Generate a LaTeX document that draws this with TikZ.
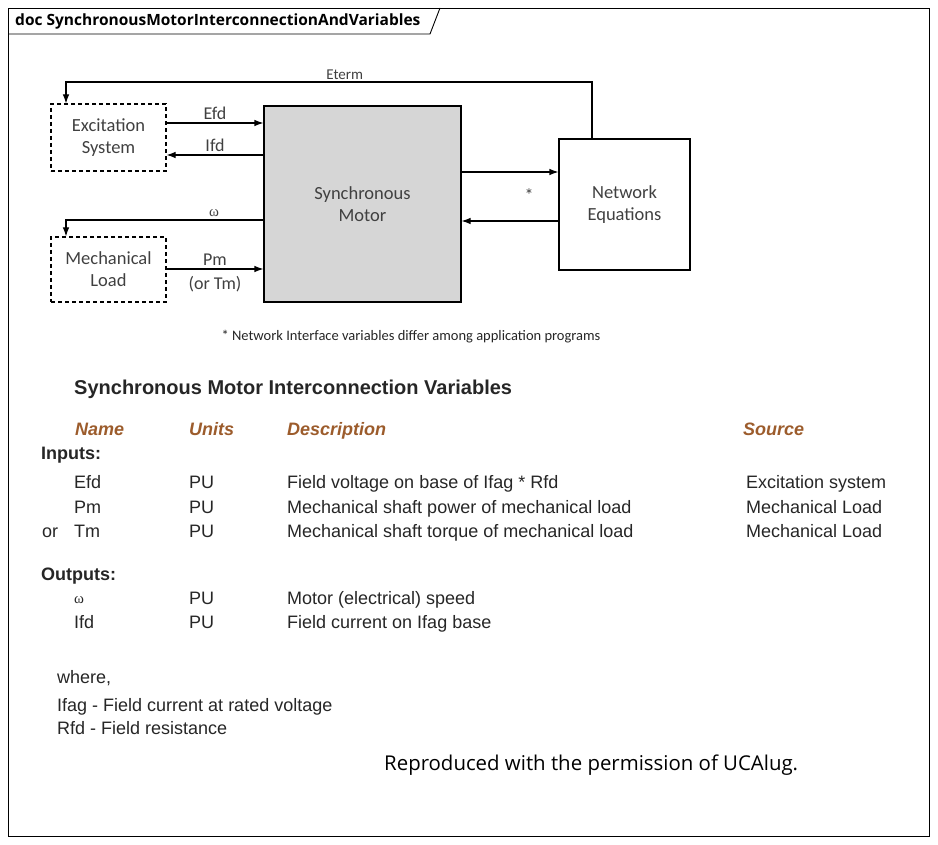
\documentclass[tikz,border=0pt]{standalone}
\usepackage{fontspec}
\setmainfont{Liberation Sans}
\newfontfamily\calfont{Carlito}
\newfontfamily\uifont{Open Sans}
\newfontfamily\serfont{Liberation Serif}
\usetikzlibrary{arrows.meta}

\definecolor{boxgray}{RGB}{214,214,214}
\definecolor{hdrbrown}{RGB}{156,92,44}
\definecolor{txtgray}{RGB}{64,64,64}

\tikzset{
  arr/.style={-{Latex[length=9pt,width=6.5pt]}, line width=1.1pt},
  block/.style={draw, line width=1.1pt, align=center, text=txtgray,
    font=\calfont\fontsize{18.5}{22}\selectfont},
  dashblock/.style={block, dash pattern=on 4pt off 3pt},
  lbl/.style={font=\calfont\fontsize{18}{20}\selectfont, text=txtgray, inner sep=2.5pt},
  cell/.style={anchor=base west, font=\fontsize{18}{21}\selectfont, text=black!85},
  hdr/.style={cell, font=\bfseries\itshape\fontsize{18}{21}\selectfont, text=hdrbrown},
  sect/.style={cell, font=\bfseries\fontsize{18}{21}\selectfont}
}

\begin{document}
\begin{tikzpicture}[x=1pt,y=-1pt]

      \useasboundingbox (0,0) rectangle (938,845);

      % frame and tab
      \draw[line width=0.9pt] (8,8) rectangle (929,836);
      \draw[line width=0.9pt] (8,34) -- (430,34) -- (440,8);
      \node[anchor=west, inner sep=0pt, font=\uifont\bfseries\fontsize{15.5}{17}\selectfont]
        (doc) at (15,21) {doc SynchronousMotorInterconnectionAndVariables};

      % blocks
      \node[dashblock, minimum width=115pt, minimum height=67pt] (exc)   at (108.5,137.5) {Excitation\\System};
      \node[dashblock, minimum width=115pt, minimum height=65pt] (mech)  at (108.5,269.5) {Mechanical\\Load};
      \node[block, fill=boxgray, minimum width=197pt, minimum height=196pt] (motor) at (362.5,204) {Synchronous\\Motor};
      \node[block, minimum width=131pt, minimum height=131pt] (net)   at (624.5,204.5) {Network\\Equations};

      % levels of the connectors
      \coordinate (efdy) at (0,123);
      \coordinate (ifdy) at (0,155);
      \coordinate (pmy)  at (0,269);
      \coordinate (outy) at (0,172);
      \coordinate (iny)  at (0,221);
      \coordinate (et)   at (592,82);
      \coordinate (etl)  at (66,82);
      \coordinate (wl)   at (66,220);

      \begin{scope}[every node/.style={lbl}]
        \draw[arr] (net.north -| et) -- (et) -- node[above, pos=0.47, font=\calfont\fontsize{15}{17}\selectfont, inner sep=1.5pt] (eterm) {Eterm} (etl) -- (exc.north -| etl);
        \draw[arr] (exc.east |- efdy) -- node[above] (efd) {Efd} (motor.west |- efdy);
        \draw[arr] (motor.west |- ifdy) -- node[above] (ifd) {Ifd} (exc.east |- ifdy);
        \draw[arr] (motor.west |- wl) -- node[above, pos=0.25, font=\serfont\fontsize{15}{17}\selectfont] (w) {ω} (wl) -- (mech.north -| wl);
        \draw[arr] (mech.east |- pmy) -- node[above] (pm) {Pm} node[below, inner sep=7pt] (tm) {(or Tm)} (motor.west |- pmy);
        \draw[arr] (motor.east |- outy) -- (net.west |- outy);
        \draw[arr] (net.west |- iny) -- (motor.east |- iny);
        \node (star) at (529,195) {*};
        \node[font=\calfont\fontsize{14.5}{16}\selectfont, text=black!85] (note) at (411,337)
          {* Network Interface variables differ among application programs};
      \end{scope}

      % table
      \begin{scope}[every node/.style={inner sep=0pt}]
        \node[anchor=base west, font=\bfseries\fontsize{20}{23}\selectfont, text=black!85] (title) at (74,395)
          {Synchronous Motor Interconnection Variables};

        \node[hdr] (h-name) at (75,435)  {Name};
        \node[hdr] (h-unit) at (189,435) {Units};
        \node[hdr] (h-desc) at (287,435) {Description};
        \node[hdr] (h-src)  at (743,435) {Source};

        \node[sect] (inputs) at (41,459) {Inputs:};
        \node[cell] (efd-n) at (74,488)  {Efd};
        \node[cell] (efd-u) at (189,488) {PU};
        \node[cell] (efd-d) at (287,488) {Field voltage on base of Ifag * Rfd};
        \node[cell] (efd-s) at (746,488) {Excitation system};
        \node[cell] (pm-n)  at (74,513)  {Pm};
        \node[cell] (pm-u)  at (189,513) {PU};
        \node[cell] (pm-d)  at (287,513) {Mechanical shaft power of mechanical load};
        \node[cell] (pm-s)  at (746,513) {Mechanical Load};
        \node[cell] (tm-or) at (42,537)  {or};
        \node[cell] (tm-n)  at (74,537)  {Tm};
        \node[cell] (tm-u)  at (189,537) {PU};
        \node[cell] (tm-d)  at (287,537) {Mechanical shaft torque of mechanical load};
        \node[cell] (tm-s)  at (746,537) {Mechanical Load};

        \node[sect] (outputs) at (41,580) {Outputs:};
        \node[cell, font=\serfont\fontsize{15}{17}\selectfont] (w-n) at (74,603) {ω};
        \node[cell] (w-u)   at (189,604) {PU};
        \node[cell] (w-d)   at (287,604) {Motor (electrical) speed};
        \node[cell] (ifd-n) at (74,628)  {Ifd};
        \node[cell] (ifd-u) at (189,628) {PU};
        \node[cell] (ifd-d) at (287,628) {Field current on Ifag base};

        \node[cell] (where) at (57,683) {where,};
        \node[cell] (ifag)  at (57,711) {Ifag - Field current at rated voltage};
        \node[cell] (rfd)   at (57,734) {Rfd - Field resistance};

        \node[anchor=base west, font=\uifont\fontsize{20.4}{23}\selectfont] (credit) at (384,770)
          {Reproduced with the permission of UCAlug.};
      \end{scope}

    \end{tikzpicture}
\end{document}
